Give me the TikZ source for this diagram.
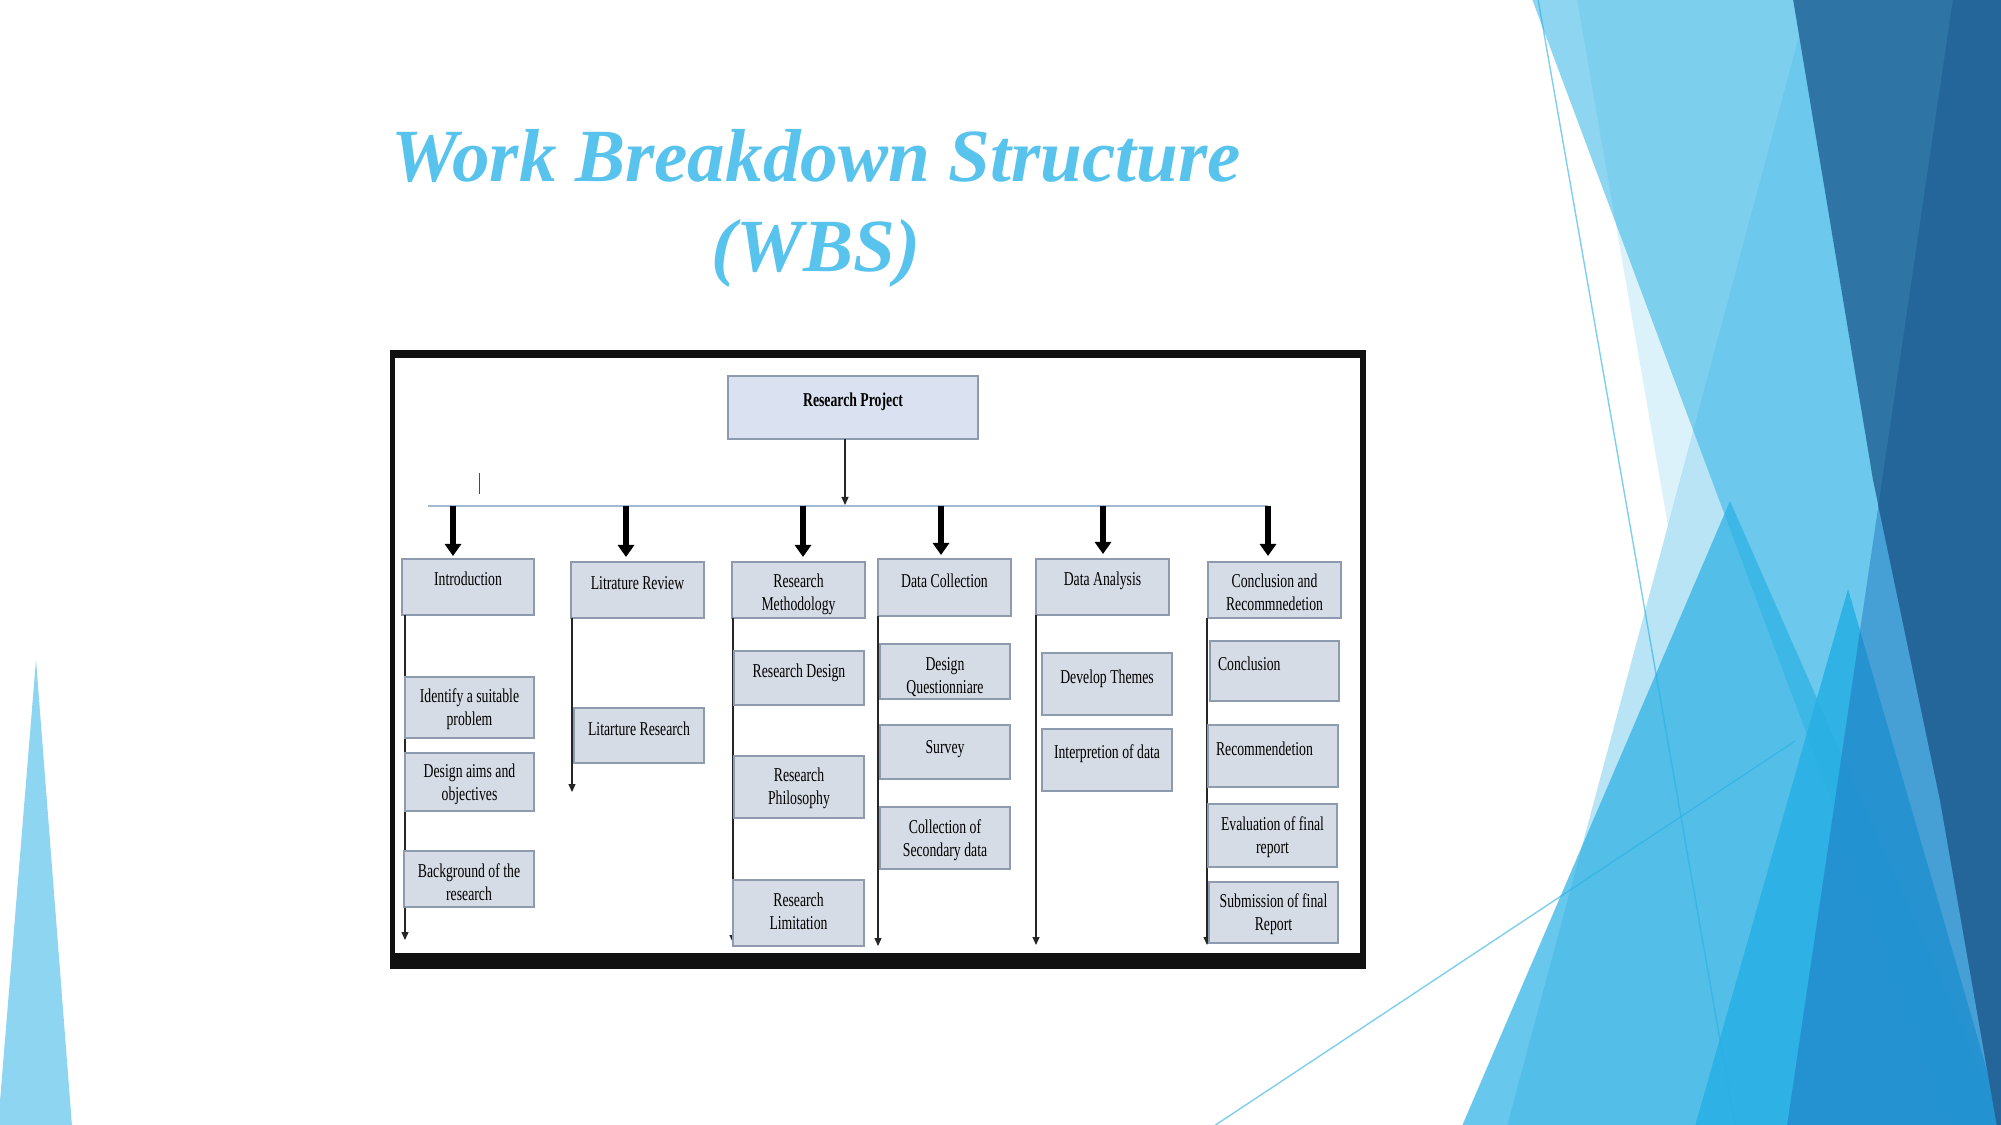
\documentclass[tikz,border=0pt]{standalone}
\usepackage{fontspec}
\usetikzlibrary{arrows.meta}
\newfontfamily\wbsfont[FakeStretch=0.7]{Liberation Serif}
\newfontfamily\wbstitle{Liberation Serif}
\definecolor{facet}{HTML}{29B0E4}
\definecolor{darkA}{HTML}{2E75A6}
\definecolor{darkB}{HTML}{24669A}
\definecolor{darkT}{HTML}{196EB9}
\definecolor{boxfill}{HTML}{D6DCE5}
\definecolor{boxline}{HTML}{8E9AAE}
\definecolor{rpfill}{HTML}{DAE2F1}
\definecolor{titleblue}{HTML}{58C3EC}
\definecolor{busline}{HTML}{A3B8D3}
\definecolor{frameblack}{HTML}{111111}
\newlength\wbspx \setlength\wbspx{0.01cm}
\newcommand\wbsc[4][26]{\parbox[c][#3\wbspx][t]{#2\wbspx}{\centering\rule{0pt}{#1\wbspx}#4}}
\newcommand\wbsl[4][26]{\parbox[c][#3\wbspx][t]{#2\wbspx}{\raggedright\rule{0pt}{#1\wbspx}\hspace*{8\wbspx}#4}}
\tikzset{
  wbsbox/.style={draw=boxline, fill=boxfill, line width=0.015cm, inner sep=0pt, outer sep=0pt, anchor=north west,
    font=\wbsfont\fontsize{5.58pt}{6.54pt}\selectfont},
  rpbox/.style={wbsbox, fill=rpfill, font=\wbsfont\bfseries\fontsize{5.58pt}{6.54pt}\selectfont},
  titletext/.style={text=titleblue, anchor=base, inner sep=0pt, font=\wbstitle\bfseries\itshape\fontsize{21.35pt}{25pt}\selectfont},
  bigarrow/.style={line width=0.06cm, -{Triangle[width=0.16cm,length=0.12cm]}},
  vline/.style={line width=0.012cm, draw=black!85, -{Triangle[width=0.07cm,length=0.08cm]}},
  bus/.style={line width=0.015cm, draw=busline},
  facetline/.style={draw=facet, draw opacity=0.6, line width=0.014cm}
}
\begin{document}
\begin{tikzpicture}[x=0.01cm, y=-0.01cm]
\useasboundingbox (0,0) rectangle (2001,1125);
\fill[white] (0,0) rectangle (2001,1125);
% ---------- background facets ----------
\begin{scope}
\clip (0,0) rectangle (2001,1125);
\fill[facet, opacity=0.53] (36,660) -- (72,1126) -- (-2,1126) -- cycle;
\fill[facet, opacity=0.16] (1577,-1) -- (1809,-1) -- (1668,526) -- cycle;
\fill[facet, opacity=0.53] (1532,-1) -- (2002,-1) -- (2002,1126) -- (1953,1126) -- cycle;
\fill[facet, opacity=0.33] (1809,-1) -- (2002,-1) -- (2002,1126) -- (1507,1126) -- cycle;
\fill[facet, opacity=0.70] (1730,501) -- (2005,1126) -- (1462,1126) -- cycle;
\fill[facet, opacity=0.88] (1848,589) -- (2003,1126) -- (1695,1126) -- cycle;
\fill[darkT, opacity=0.45] (1953,-1) -- (2002,-1) -- (2002,1126) -- (1787,1126) -- cycle;
\fill[darkA] (1793,-1) -- (2002,-1) -- (2002,1126) -- (1997,1126) -- (1940,800) -- (1873,480) -- cycle;
\begin{scope}
\clip (1793,-1) -- (2002,-1) -- (2002,1126) -- (1997,1126) -- (1940,800) -- (1873,480) -- cycle;
\fill[darkB] (1953,-1) -- (2002,-1) -- (2002,1126) -- (1787,1126) -- cycle;
\end{scope}
\draw[facetline] (1538,-1) -- (1735,1126);
\draw[facetline] (1214,1126) -- (1795,741);
\end{scope}
% ---------- title ----------
\node[titletext] (t1) at (816,182) {Work Breakdown Structure};
\node[titletext] (t2) at (816,272) {(WBS)};
% ---------- frame ----------
\fill[frameblack] (390,350) rectangle (1366,969);
\fill[white] (395,358) rectangle (1360,953);
% ---------- level 0 / 1 ----------
\node[rpbox] (rp) at (728,376) {\wbsc[31]{250}{63}{Research Project}};
\node[wbsbox] (intro) at (402,559) {\wbsc{132}{56}{Introduction}};
\node[wbsbox] (litrev) at (571,562) {\wbsc[27]{133}{56}{Litrature Review}};
\node[wbsbox] (rmeth) at (732,562) {\wbsc[25]{133}{56}{Research\\Methodology}};
\node[wbsbox] (dcoll) at (878,559) {\wbsc[28]{133}{57}{Data Collection}};
\node[wbsbox] (danal) at (1036,559) {\wbsc{133}{56}{Data Analysis}};
\node[wbsbox] (concrec) at (1208,562) {\wbsc[25]{133}{56}{Conclusion and\\Recommnedetion}};
% bus and arrows
\coordinate (busL) at (428,506);
\coordinate (busR) at (1268,506);
\coordinate (rpend) at (845,505);
\coordinate (b1) at (453,506);
\coordinate (b2) at (626,506);
\coordinate (b3) at (803,506);
\coordinate (b4) at (941,506);
\coordinate (b5) at (1103,506);
\coordinate (b6) at (1268,506);
\draw[bus] (busL) -- (busR);
\draw[vline] (rp.south -| rpend) -- (rpend);
\draw[line width=0.01cm, draw=black!70] (479,473) -- (479,494);
\draw[bigarrow] (b1) -- ([yshift=0.03cm]intro.north -| b1);
\draw[bigarrow] (b2) -- ([yshift=0.05cm]litrev.north -| b2);
\draw[bigarrow] (b3) -- ([yshift=0.05cm]rmeth.north -| b3);
\draw[bigarrow] (b4) -- ([yshift=0.04cm]dcoll.north -| b4);
\draw[bigarrow] (b5) -- ([yshift=0.05cm]danal.north -| b5);
\draw[bigarrow] (b6) -- ([yshift=0.06cm]concrec.north -| b6);
% column lines
\coordinate (e1) at (405,940);
\coordinate (e2) at (572,792);
\coordinate (e3) at (733,943);
\coordinate (e4) at (878,946);
\coordinate (e5) at (1036,945);
\coordinate (e6) at (1207,945);
\draw[vline] (intro.south -| e1) -- (e1);
\draw[vline] (litrev.south -| e2) -- (e2);
\draw[vline] (rmeth.south -| e3) -- (e3);
\draw[vline] (dcoll.south -| e4) -- (e4);
\draw[vline] (danal.south -| e5) -- (e5);
\draw[vline] (concrec.south -| e6) -- (e6);
% ---------- level 2 ----------
\node[wbsbox] (ident) at (405,677) {\wbsc[25]{129}{61}{Identify a suitable\\problem}};
\node[wbsbox] (aims) at (405,753) {\wbsc[24]{129}{58}{Design aims and\\objectives}};
\node[wbsbox] (backg) at (404,851) {\wbsc{130}{56}{Background of the\\research}};
\node[wbsbox] (litres) at (574,708) {\wbsc[27]{130}{55}{Litarture Research}};
\node[wbsbox] (rdesign) at (734,651) {\wbsc{130}{54}{Research Design}};
\node[wbsbox] (rphil) at (734,756) {\wbsc[25]{130}{62}{Research\\Philosophy}};
\node[wbsbox] (rlim) at (733,880) {\wbsc{131}{66}{Research\\Limitation}};
\node[wbsbox] (dquest) at (880,644) {\wbsc{130}{55}{Design\\Questionniare}};
\node[wbsbox] (survey) at (880,725) {\wbsc[28]{130}{54}{Survey}};
\node[wbsbox] (secdata) at (880,807) {\wbsc{130}{62}{Collection of\\Secondary data}};
\node[wbsbox] (themes) at (1042,653) {\wbsc[30]{130}{62}{Develop Themes}};
\node[wbsbox] (interp) at (1042,729) {\wbsc[29]{130}{62}{Interpretion of data}};
\node[wbsbox] (concl) at (1210,641) {\wbsl[29]{129}{60}{Conclusion}};
\node[wbsbox] (recom) at (1208,725) {\wbsl[30]{130}{62}{Recommendetion}};
\node[wbsbox] (evalr) at (1208,804) {\wbsc{129}{63}{Evaluation of final\\report}};
\node[wbsbox] (submit) at (1209,882) {\wbsc[25]{129}{61}{Submission of final\\Report}};
\end{tikzpicture}
\end{document}
